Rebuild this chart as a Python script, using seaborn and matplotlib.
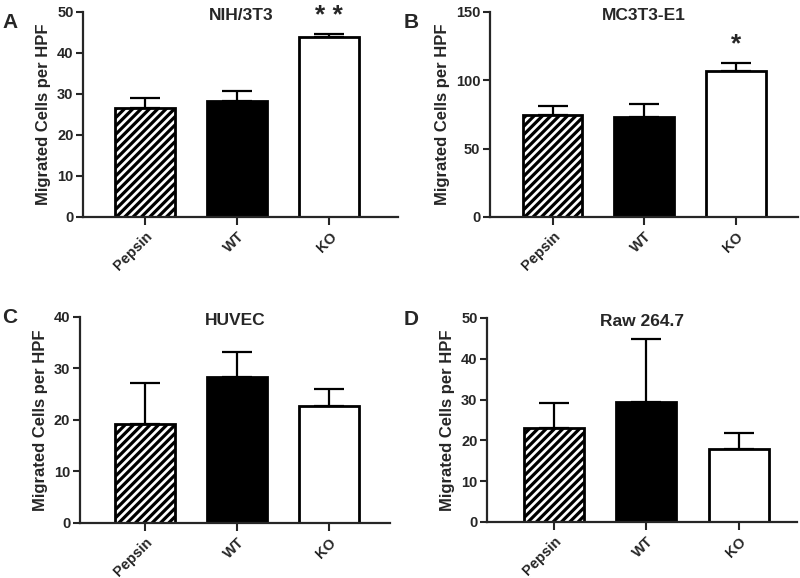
import numpy as np
import pandas as pd
import matplotlib
matplotlib.use('Agg')
import matplotlib.pyplot as plt
import seaborn as sns

sns.set_style('ticks')
plt.rcParams['font.family'] = ['Liberation Sans', 'DejaVu Sans']
plt.rcParams['font.weight'] = 'bold'
plt.rcParams['hatch.linewidth'] = 2.3

groups = ['Pepsin', 'WT', 'KO']

# panel data (mean, upper error)
nih_mean = [26.5, 28.3, 43.8]
nih_err = [2.6, 2.4, 0.9]
mc3t3_mean = [74.3, 73.5, 106.9]
mc3t3_err = [6.8, 8.8, 6.1]
huvec_mean = [19.2, 28.3, 22.8]
huvec_err = [7.9, 4.9, 3.3]
raw_mean = [23.0, 29.4, 17.8]
raw_err = [6.1, 15.5, 4.0]

panels = [
    dict(letter='A', title='NIH/3T3', mean=nih_mean, err=nih_err, ymax=50, step=10,
         star='* *', pos=[0.104, 0.6246, 0.394, 0.3547], xlim=(-0.674, 2.75),
         lpos=(0.003, 0.977)),
    dict(letter='B', title='MC3T3-E1', mean=mc3t3_mean, err=mc3t3_err, ymax=150, step=50,
         star='*', pos=[0.6125, 0.6246, 0.385, 0.3547], xlim=(-0.685, 2.68),
         lpos=(0.505, 0.977)),
    dict(letter='C', title='HUVEC', mean=huvec_mean, err=huvec_err, ymax=40, step=10,
         star='', pos=[0.100, 0.0952, 0.3875, 0.3564], xlim=(-0.707, 2.66),
         lpos=(0.003, 0.467)),
    dict(letter='D', title='Raw 264.7', mean=raw_mean, err=raw_err, ymax=50, step=10,
         star='', pos=[0.609, 0.0969, 0.3875, 0.353], xlim=(-0.72, 2.63),
         lpos=(0.505, 0.463)),
]

fig = plt.figure(figsize=(8, 5.78), dpi=100)

for p in panels:
    ax = fig.add_axes(p['pos'])
    df = pd.DataFrame({'group': groups, 'value': p['mean'], 'err': p['err']})
    sns.barplot(data=df, x='group', y='value', hue='group',
                palette=['white', 'black', 'white'], edgecolor='black',
                linewidth=2.0, width=0.65, errorbar=None, legend=False, ax=ax)
    ax.patches[0].set_hatch('////')
    ax.errorbar(np.arange(len(groups)), df['value'],
                yerr=[np.zeros(len(groups)), df['err']],
                fmt='none', ecolor='black', elinewidth=1.6,
                capsize=10.5, capthick=1.6, zorder=1)
    for bar in ax.patches:
        bar.set_zorder(2)
    if p['star']:
        top = df['value'].iloc[2] + df['err'].iloc[2]
        ax.annotate(p['star'], (2, top), xytext=(0, 13), textcoords='offset points',
                    ha='center', va='center', fontsize=19, fontweight='bold',
                    annotation_clip=False)
    ax.set_ylim(0, p['ymax'])
    ax.set_xlim(*p['xlim'])
    ax.set_yticks(np.arange(0, p['ymax'] + 1, p['step']))
    ax.set_xlabel('')
    ax.set_ylabel('Migrated Cells per HPF', fontsize=12, fontweight='bold', labelpad=4)
    ax.tick_params(axis='y', labelsize=10.5, width=1.5, length=5, pad=2)
    ax.tick_params(axis='x', labelsize=10.5, width=1.5, length=6, pad=3)
    for lab in ax.get_xticklabels():
        lab.set_rotation(45)
        lab.set_ha('right')
        lab.set_rotation_mode('anchor')
        lab.set_fontweight('bold')
    for lab in ax.get_yticklabels():
        lab.set_fontweight('bold')
    sns.despine(ax=ax)
    for s in ['left', 'bottom']:
        ax.spines[s].set_linewidth(1.6)
    ax.text(0.5, 0.985, p['title'], transform=ax.transAxes, ha='center', va='center',
            fontsize=12.5, fontweight='bold')
    fig.text(p['lpos'][0], p['lpos'][1], p['letter'], ha='left', va='top',
             fontsize=15, fontweight='bold')

fig.savefig('out.png', dpi=100)
